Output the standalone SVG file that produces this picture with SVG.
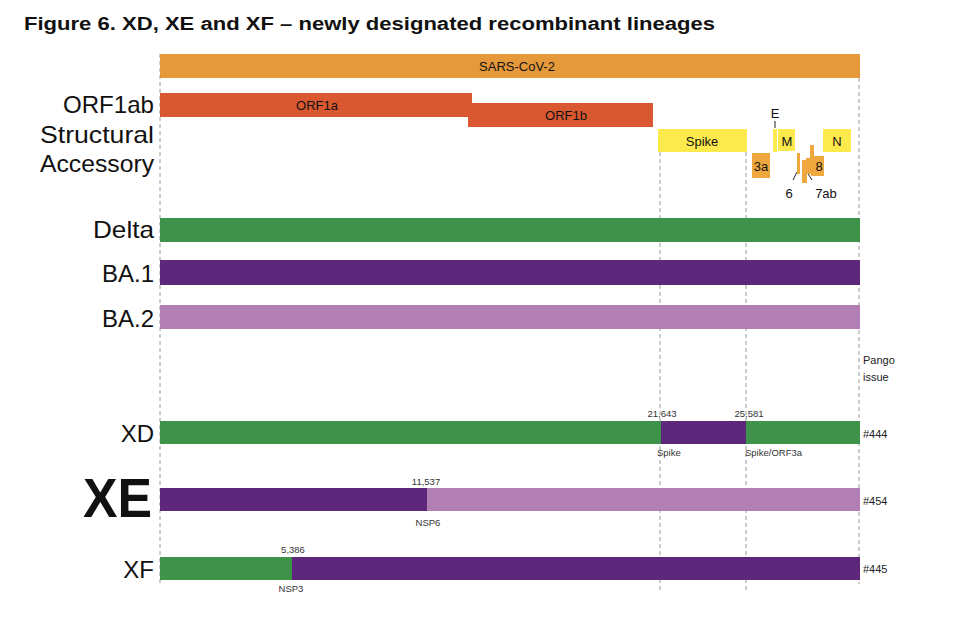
<svg xmlns="http://www.w3.org/2000/svg" width="959" height="624" viewBox="0 0 959 624">
<style>
text{font-family:"Liberation Sans",Arial,sans-serif;fill:#111}
.title{font-weight:bold;font-size:17.5px}
.row{font-size:24px;text-anchor:end}
.gene{font-size:13px;text-anchor:middle}
.sm{font-size:9.5px;text-anchor:middle;fill:#333}
.sl{font-size:9.5px;fill:#333}
.iss{font-size:11px;fill:#222}
.dash{stroke:#9a9a9a;stroke-width:1;stroke-dasharray:4 3;fill:none}
.green{fill:#3F924A}
.purple{fill:#5D277B}
.lilac{fill:#B17FB4}
.yel{fill:#FCEA4C}
.acc{fill:#EEA83E}
</style>
<text class="title" x="24" y="30" textLength="691" lengthAdjust="spacingAndGlyphs">Figure 6. XD, XE and XF – newly designated recombinant lineages</text>
<g id="connectors">
<line class="dash" x1="160" y1="54" x2="160" y2="584"/>
<line class="dash" x1="660" y1="152" x2="660" y2="590"/>
<line class="dash" x1="746" y1="152" x2="746" y2="590"/>
<line class="dash" x1="859" y1="78" x2="859" y2="584"/>
<line x1="775" y1="121" x2="775" y2="128" stroke="#222" stroke-width="1"/>
<line x1="797" y1="172" x2="793" y2="180" stroke="#222" stroke-width="1"/>
<line x1="807" y1="172" x2="812" y2="180" stroke="#222" stroke-width="1"/>
</g>
<g id="sars-cov-2">
<rect x="160" y="54" width="700" height="24" fill="#E5993A"/>
<text class="gene" x="517" y="71">SARS-CoV-2</text>
</g>
<g id="labels">
<text class="row" x="154" y="113" textLength="91" lengthAdjust="spacingAndGlyphs">ORF1ab</text>
<text class="row" x="154" y="143" textLength="114" lengthAdjust="spacingAndGlyphs">Structural</text>
<text class="row" x="154" y="172" textLength="114" lengthAdjust="spacingAndGlyphs">Accessory</text>
</g>
<g id="orf1a">
<rect x="160" y="93" width="312" height="24" fill="#D9582F"/>
<text class="gene" x="317" y="110">ORF1a</text>
</g>
<g id="orf1b">
<rect x="468" y="103" width="185" height="24" fill="#D9582F"/>
<text class="gene" x="566" y="120">ORF1b</text>
</g>
<g id="spike">
<rect class="yel" x="658" y="129" width="89" height="23"/>
<text class="gene" x="702" y="146" font-size="14">Spike</text>
</g>
<g id="e">
<rect class="yel" x="773" y="129" width="4" height="23"/>
<text class="gene" x="775" y="118" font-size="14">E</text>
</g>
<g id="m">
<rect class="yel" x="778" y="129" width="17" height="22"/>
<text class="gene" x="787" y="146" font-size="14">M</text>
</g>
<g id="n">
<rect class="yel" x="823" y="129" width="28" height="23"/>
<text class="gene" x="837" y="146" font-size="14">N</text>
</g>
<g id="orf3a">
<rect class="acc" x="752" y="153" width="18" height="25"/>
<text class="gene" x="761" y="171">3a</text>
</g>
<g id="orf6">
<rect class="acc" x="797" y="153" width="3" height="21"/>
<text class="gene" x="789" y="198" font-size="14">6</text>
</g>
<g id="orf7ab">
<rect class="acc" x="802" y="160" width="5" height="23"/>
<rect class="acc" x="806" y="158" width="5" height="16"/>
<text class="gene" x="826" y="198" font-size="14">7ab</text>
</g>
<g id="orf8">
<rect class="acc" x="810" y="145" width="4" height="14"/>
<rect class="acc" x="811" y="156" width="13" height="20"/>
<text class="gene" x="819" y="171">8</text>
</g>
<g id="delta">
<text class="row" x="154" y="238" textLength="61" lengthAdjust="spacingAndGlyphs">Delta</text>
<rect class="green" x="160" y="218" width="700" height="24"/>
</g>
<g id="ba1">
<text class="row" x="154" y="282">BA.1</text>
<rect class="purple" x="160" y="260" width="700" height="25"/>
</g>
<g id="ba2">
<text class="row" x="154" y="327">BA.2</text>
<rect class="lilac" x="160" y="305" width="700" height="24"/>
</g>
<g id="pango-header">
<text class="iss" x="863" y="364">Pango</text>
<text class="iss" x="863" y="381">issue</text>
</g>
<g id="xd">
<text class="row" x="154" y="442">XD</text>
<rect class="green" x="160" y="421" width="501" height="23"/>
<rect class="purple" x="661" y="421" width="85" height="23"/>
<rect class="green" x="746" y="421" width="114" height="23"/>
<text class="sm" x="662" y="417">21,643</text>
<text class="sm" x="749" y="417">25,581</text>
<text class="sl" x="657" y="456">Spike</text>
<text class="sl" x="745" y="456">Spike/ORF3a</text>
<text class="iss" x="863" y="438">#444</text>
</g>
<g id="xe">
<text x="152" y="517" font-size="56" font-weight="bold" text-anchor="end" textLength="69" lengthAdjust="spacingAndGlyphs">XE</text>
<rect class="purple" x="160" y="488" width="267" height="23"/>
<rect class="lilac" x="427" y="488" width="433" height="23"/>
<text class="sm" x="426" y="485">11,537</text>
<text class="sm" x="428" y="526">NSP6</text>
<text class="iss" x="863" y="505">#454</text>
</g>
<g id="xf">
<text class="row" x="154" y="578">XF</text>
<rect class="green" x="160" y="557" width="132" height="23"/>
<rect class="purple" x="292" y="557" width="568" height="23"/>
<text class="sm" x="293" y="553">5,386</text>
<text class="sm" x="291" y="592">NSP3</text>
<text class="iss" x="863" y="573">#445</text>
</g>
</svg>
